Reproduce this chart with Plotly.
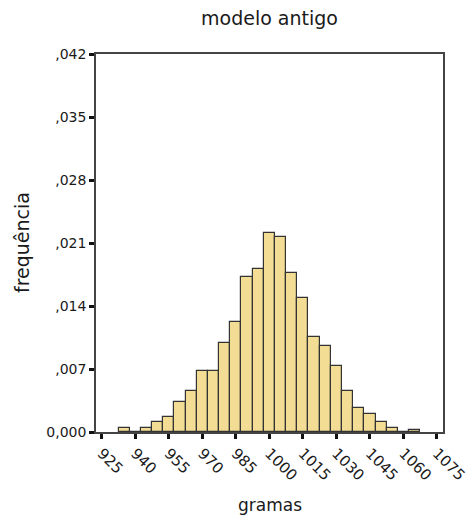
import plotly.graph_objects as go

# Histogram of weights (bin width 5 g), relative frequency per gram
bin_centers = [935, 940, 945, 950, 955, 960, 965, 970, 975, 980, 985, 990, 995,
               1000, 1005, 1010, 1015, 1020, 1025, 1030, 1035, 1040, 1045, 1050,
               1055, 1060, 1065]
frequencies = [0.00044, 0.0, 0.00044, 0.0011, 0.0017, 0.0033, 0.00456, 0.00674,
               0.00674, 0.00993, 0.01227, 0.01727, 0.01808, 0.02216, 0.02171,
               0.01763, 0.01493, 0.01056, 0.0096, 0.0073, 0.00456, 0.00267,
               0.00204, 0.00108, 0.00044, 0.0, 0.0002]
bin_width = 5

x_ticks = [925, 940, 955, 970, 985, 1000, 1015, 1030, 1045, 1060, 1075]
y_ticks = [0.0, 0.007, 0.014, 0.021, 0.028, 0.035, 0.042]
y_tick_text = ["0,000", ",007", ",014", ",021", ",028", ",035", ",042"]

FONT = "DejaVu Sans"
TEXT_COLOR = "#1a1a1a"

fig = go.Figure(
    go.Bar(
        x=bin_centers,
        y=frequencies,
        width=[bin_width] * len(bin_centers),
        marker=dict(color="#F3DD94", line=dict(color="#333333", width=1.2)),
        hoverinfo="x+y",
    )
)

fig.update_layout(
    width=472,
    height=518,
    margin=dict(l=96, r=29, t=54, b=86),
    paper_bgcolor="white",
    plot_bgcolor="white",
    showlegend=False,
    bargap=0,
    font=dict(family=FONT, color=TEXT_COLOR),
    title=dict(
        text="modelo antigo",
        x=0.5,
        xref="paper",
        y=1 - 18 / 518,
        yref="container",
        xanchor="center",
        yanchor="middle",
        font=dict(family=FONT, size=19, color=TEXT_COLOR),
    ),
    xaxis=dict(
        range=[922.4, 1077.7],
        automargin=False,
        tickmode="array",
        tickvals=x_ticks,
        ticktext=[str(v) for v in x_ticks],
        tickangle=45,
        ticks="outside",
        ticklen=5,
        tickwidth=3,
        tickcolor="#111111",
        tickfont=dict(family=FONT, size=15, color=TEXT_COLOR),
        showline=True,
        linecolor="#444444",
        linewidth=1.5,
        mirror=True,
        showgrid=False,
        zeroline=False,
    ),
    yaxis=dict(
        range=[0, 0.042],
        automargin=False,
        tickmode="array",
        tickvals=y_ticks,
        ticktext=y_tick_text,
        ticks="outside",
        ticklen=5,
        tickwidth=3,
        tickcolor="#111111",
        tickfont=dict(family=FONT, size=14, color=TEXT_COLOR),
        showline=True,
        linecolor="#444444",
        linewidth=1.5,
        mirror=True,
        showgrid=False,
        zeroline=False,
    ),
    annotations=[
        dict(
            text="frequência",
            x=-(96 - 22) / (443 - 96), xref="paper", xanchor="center",
            y=0.5, yref="paper", yanchor="middle",
            textangle=-90,
            showarrow=False,
            font=dict(family=FONT, size=19, color=TEXT_COLOR),
        ),
        dict(
            text="gramas",
            x=0.5, xref="paper", xanchor="center",
            y=-(505 - 432) / (432 - 54), yref="paper", yanchor="middle",
            showarrow=False,
            font=dict(family=FONT, size=17, color=TEXT_COLOR),
        ),
    ],
)

fig.write_html("out.html")
